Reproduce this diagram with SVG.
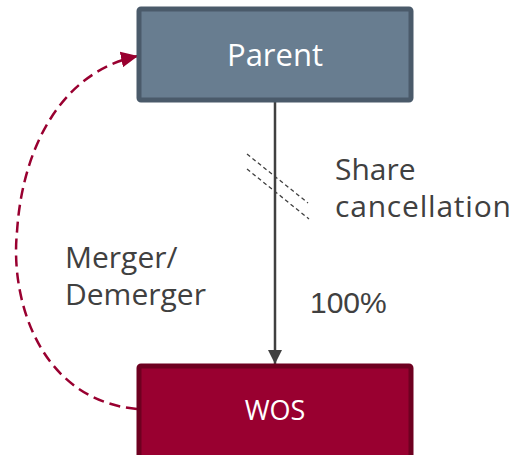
<svg xmlns="http://www.w3.org/2000/svg" width="515" height="455" viewBox="0 0 515 455">
  <style>
    .label { font-family: "Open Sans", "DejaVu Sans", sans-serif; fill: #404040; font-size: 30px; }
    .nodetext { font-family: "Open Sans", "DejaVu Sans", sans-serif; fill: #ffffff; text-anchor: middle; }
    .hatch { stroke: #404040; stroke-width: 1.3; stroke-dasharray: 4 3; fill: none; }
  </style>
  <defs>
    <marker id="arrowDark" viewBox="0 0 14 14" refX="14" refY="7" markerWidth="14" markerHeight="14" markerUnits="userSpaceOnUse" orient="auto">
      <path d="M0,0 L14,7 L0,14 z" fill="#404040"/>
    </marker>
    <marker id="arrowRed" viewBox="0 0 17 16" refX="17" refY="8" markerWidth="17" markerHeight="16" markerUnits="userSpaceOnUse" orient="auto">
      <path d="M0,0 L17,8 L0,16 z" fill="#990030"/>
    </marker>
  </defs>

  <g id="connectors">
    <line x1="275" y1="101" x2="275" y2="364" stroke="#404040" stroke-width="2.5" marker-end="url(#arrowDark)"/>
    <path d="M137,409 C40,400 10,300 17,232 C22,150 60,72 138,56" fill="none" stroke="#990030" stroke-width="2.5" stroke-dasharray="11 6" marker-end="url(#arrowRed)"/>
    <line class="hatch" x1="247" y1="154" x2="308" y2="203"/>
    <line class="hatch" x1="247" y1="169" x2="309" y2="219"/>
  </g>

  <g id="parent">
    <rect x="139" y="9" width="272" height="91" rx="2" fill="#687d90" stroke="#4a5a6a" stroke-width="5"/>
    <text class="nodetext" x="275" y="66" font-size="31">Parent</text>
  </g>

  <g id="wos">
    <rect x="139" y="366" width="272" height="95" rx="2" fill="#990030" stroke="#6e0020" stroke-width="5"/>
    <text class="nodetext" x="275" y="420" font-size="27">WOS</text>
  </g>

  <g id="labels">
    <text class="label" x="335" y="180">Share</text>
    <text class="label" x="335" y="217" letter-spacing="0.8">cancellation</text>
    <text class="label" x="65" y="268">Merger/</text>
    <text class="label" x="65" y="305">Demerger</text>
    <text class="label" x="310" y="313" font-size="33" style="font-family: 'Liberation Sans', Arial, sans-serif;">100%</text>
  </g>
</svg>
